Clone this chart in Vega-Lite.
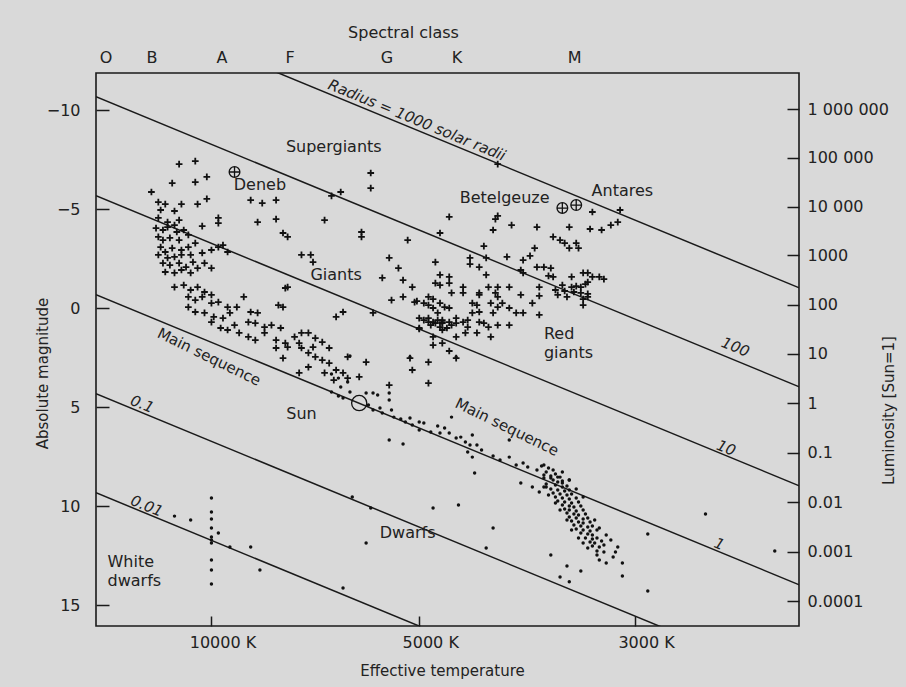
{
"$schema":"https://vega.github.io/schema/vega-lite/v6.json",
"width":703,"height":553,
"autosize":{"type":"none"},
"padding":{"left":96,"top":73,"right":107,"bottom":61},
"background":"#d9d9d9",
"config":{
"view":{"stroke":"#1a1a1a","strokeWidth":1.6},
"font":"DejaVu Sans",
"axis":{"labelFont":"DejaVu Sans","labelFontSize":16,"labelColor":"#222","titleFont":"DejaVu Sans","titleFontSize":15,"titleFontWeight":"normal","titleColor":"#222","domain":false,"grid":false,"tickColor":"#1a1a1a","tickWidth":1.5,"labelFlush":false,"labelOverlap":false,"labelBound":false}
},
"datasets":{
"lines":[
{"R":"1000","bv":-0.5,"M":-15.67},{"R":"1000","bv":2.55,"M":-1.0},
{"R":"100","bv":-0.5,"M":-10.67},{"R":"100","bv":2.55,"M":4.0},
{"R":"10","bv":-0.5,"M":-5.67},{"R":"10","bv":2.55,"M":9.0},
{"R":"1","bv":-0.5,"M":-0.67},{"R":"1","bv":2.55,"M":14.0},
{"R":"0.1","bv":-0.5,"M":4.33},{"R":"0.1","bv":2.55,"M":19.0},
{"R":"0.01","bv":-0.5,"M":9.33},{"R":"0.01","bv":2.55,"M":24.0}
],
"crosses":[
{"bv":-0.14,"M":-7.27},{"bv":-0.07,"M":-7.42},{"bv":-0.17,"M":-6.31},{"bv":-0.07,"M":-6.36},{"bv":-0.02,"M":-6.62},{"bv":-0.26,"M":-5.86},{"bv":0.17,"M":-5.45},{"bv":0.22,"M":-5.3},{"bv":0.28,"M":-5.45},{"bv":-0.02,"M":-5.51},{"bv":-0.06,"M":-5.25},{"bv":-0.13,"M":-5.25},{"bv":-0.23,"M":-5.35},{"bv":-0.2,"M":-5.25},{"bv":-0.22,"M":-4.95},{"bv":-0.16,"M":-4.9},{"bv":0.03,"M":-4.55},{"bv":0.03,"M":-4.29},{"bv":-0.04,"M":-4.14},{"bv":0.2,"M":-4.34},{"bv":0.28,"M":-4.49},{"bv":0.49,"M":-4.44},{"bv":0.56,"M":-5.86},{"bv":0.52,"M":-5.66},{"bv":0.69,"M":-6.82},{"bv":0.69,"M":-6.06},{"bv":0.65,"M":-3.84},{"bv":0.65,"M":-3.59},{"bv":0.31,"M":-3.79},{"bv":0.33,"M":-3.59},{"bv":0.85,"M":-3.43},{"bv":0.39,"M":-2.68},{"bv":0.43,"M":-2.68},{"bv":0.44,"M":-2.32},{"bv":0.77,"M":-2.53},{"bv":0.81,"M":-2.02},{"bv":0.74,"M":-1.52},{"bv":0.83,"M":-1.41},{"bv":0.87,"M":-1.06},{"bv":0.97,"M":-2.32},{"bv":0.99,"M":-1.67},{"bv":0.97,"M":-1.26},{"bv":0.32,"M":-1.01},{"bv":0.54,"M":0.45},{"bv":0.57,"M":0.2},{"bv":0.7,"M":0.25},{"bv":0.9,"M":1.01},{"bv":0.86,"M":2.53},{"bv":0.87,"M":3.13},{"bv":0.94,"M":2.73},{"bv":0.77,"M":3.89},{"bv":0.94,"M":3.79},{"bv":0.67,"M":2.73},{"bv":0.59,"M":2.47},{"bv":0.64,"M":3.48},
{"bv":-0.23,"M":-4.55},{"bv":-0.19,"M":-4.34},{"bv":-0.16,"M":-4.19},{"bv":-0.14,"M":-4.44},{"bv":-0.24,"M":-4.04},{"bv":-0.21,"M":-3.94},{"bv":-0.19,"M":-4.09},{"bv":-0.15,"M":-3.84},{"bv":-0.12,"M":-3.94},{"bv":-0.23,"M":-3.59},{"bv":-0.21,"M":-3.43},{"bv":-0.18,"M":-3.54},{"bv":-0.14,"M":-3.43},{"bv":-0.1,"M":-3.69},{"bv":-0.22,"M":-3.08},{"bv":-0.2,"M":-2.83},{"bv":-0.17,"M":-3.03},{"bv":-0.13,"M":-2.93},{"bv":-0.1,"M":-3.08},{"bv":-0.07,"M":-3.28},{"bv":-0.23,"M":-2.68},{"bv":-0.19,"M":-2.53},{"bv":-0.16,"M":-2.58},{"bv":-0.13,"M":-2.68},{"bv":-0.09,"M":-2.68},{"bv":-0.21,"M":-2.27},{"bv":-0.18,"M":-2.17},{"bv":-0.14,"M":-2.27},{"bv":-0.11,"M":-2.07},{"bv":-0.08,"M":-2.32},{"bv":-0.2,"M":-1.82},{"bv":-0.16,"M":-1.77},{"bv":-0.13,"M":-1.92},{"bv":-0.09,"M":-1.77},{"bv":-0.06,"M":-2.02},{"bv":-0.03,"M":-2.27},{"bv":0.0,"M":-2.02},{"bv":-0.04,"M":-2.78},{"bv":0.0,"M":-2.93},{"bv":0.03,"M":-3.08},{"bv":0.07,"M":-2.83},{"bv":0.05,"M":-3.18},
{"bv":-0.16,"M":-1.06},{"bv":-0.12,"M":-1.16},{"bv":-0.09,"M":-0.91},{"bv":-0.06,"M":-1.06},{"bv":-0.03,"M":-0.81},{"bv":0.0,"M":-0.66},{"bv":-0.1,"M":-0.56},{"bv":-0.07,"M":-0.4},{"bv":-0.04,"M":-0.56},{"bv":0.0,"M":-0.25},{"bv":0.03,"M":-0.3},{"bv":0.07,"M":-0.05},{"bv":-0.1,"M":-0.05},{"bv":-0.07,"M":0.2},{"bv":-0.03,"M":0.25},{"bv":0.01,"M":0.45},{"bv":0.05,"M":0.51},{"bv":0.08,"M":0.25},{"bv":0.11,"M":-0.05},{"bv":0.14,"M":-0.56},{"bv":0.17,"M":0.2},{"bv":0.2,"M":0.25},{"bv":0.16,"M":0.71},{"bv":0.19,"M":0.76},{"bv":0.1,"M":0.86},{"bv":0.0,"M":0.71},{"bv":0.04,"M":1.01},{"bv":0.07,"M":1.11},{"bv":0.12,"M":1.26},{"bv":0.16,"M":1.46},{"bv":0.19,"M":1.62},{"bv":0.23,"M":0.96},{"bv":0.26,"M":0.86},{"bv":0.3,"M":1.01},{"bv":0.29,"M":-0.15},{"bv":0.31,"M":-0.05},{"bv":0.33,"M":-1.06},{"bv":0.23,"M":1.26},
{"bv":0.28,"M":1.62},{"bv":0.32,"M":1.77},{"bv":0.36,"M":1.46},{"bv":0.39,"M":1.26},{"bv":0.42,"M":1.26},{"bv":0.45,"M":1.52},{"bv":0.48,"M":1.72},{"bv":0.51,"M":2.02},{"bv":0.39,"M":2.02},{"bv":0.42,"M":2.27},{"bv":0.45,"M":2.47},{"bv":0.48,"M":2.63},{"bv":0.51,"M":2.78},{"bv":0.54,"M":3.13},{"bv":0.57,"M":3.28},{"bv":0.59,"M":3.54},{"bv":0.33,"M":1.97},{"bv":0.38,"M":1.77},{"bv":0.44,"M":1.97},{"bv":0.28,"M":2.02},{"bv":0.31,"M":2.53},{"bv":0.38,"M":3.28},{"bv":0.42,"M":2.98},{"bv":0.49,"M":3.28},{"bv":0.53,"M":3.64},
{"bv":0.94,"M":-0.56},{"bv":0.92,"M":-0.25},{"bv":0.96,"M":0.0},{"bv":0.98,"M":0.25},{"bv":1.0,"M":0.61},{"bv":0.88,"M":-0.3},{"bv":0.9,"M":0.51},{"bv":0.94,"M":0.71},{"bv":0.97,"M":0.76},{"bv":1.0,"M":0.71},
{"bv":1.24,"M":-7.27},{"bv":1.65,"M":-4.85},{"bv":1.77,"M":-4.95},{"bv":1.76,"M":-4.34},{"bv":1.73,"M":-4.19},{"bv":1.69,"M":-3.94},{"bv":1.64,"M":-3.99},{"bv":1.55,"M":-4.09},{"bv":1.41,"M":-4.09},{"bv":1.3,"M":-4.19},{"bv":1.23,"M":-4.49},{"bv":1.24,"M":-4.65},{"bv":1.22,"M":-3.94},{"bv":1.03,"M":-4.6},{"bv":0.99,"M":-3.79},{"bv":1.48,"M":-3.59},{"bv":1.51,"M":-3.43},{"bv":1.53,"M":-3.28},{"bv":1.55,"M":-3.03},{"bv":1.58,"M":-3.28},{"bv":1.59,"M":-3.03},{"bv":1.18,"M":-3.13},{"bv":1.4,"M":-3.03},{"bv":1.38,"M":-2.63},{"bv":1.28,"M":-2.58},{"bv":1.35,"M":-2.42},{"bv":1.19,"M":-2.53},{"bv":1.12,"M":-2.53},{"bv":1.12,"M":-2.22},{"bv":1.16,"M":-2.07},{"bv":1.19,"M":-1.67},{"bv":1.41,"M":-2.07},{"bv":1.44,"M":-2.07},{"bv":1.47,"M":-2.02},{"bv":1.34,"M":-1.92},{"bv":1.35,"M":-1.77},{"bv":1.46,"M":-1.62},{"bv":1.48,"M":-1.57},{"bv":1.61,"M":-1.77},{"bv":1.63,"M":-1.77},{"bv":1.65,"M":-1.57},{"bv":1.68,"M":-1.57},{"bv":1.7,"M":-1.46},{"bv":1.56,"M":-1.57},{"bv":1.03,"M":-1.57},{"bv":0.99,"M":-1.16},{"bv":1.03,"M":-1.26},{"bv":1.09,"M":-1.06},{"bv":1.2,"M":-1.06},{"bv":1.24,"M":-1.06},{"bv":1.29,"M":-1.06},{"bv":1.52,"M":-1.16},{"bv":1.56,"M":-1.06},{"bv":1.58,"M":-1.11},{"bv":1.6,"M":-1.06},{"bv":1.62,"M":-1.21},{"bv":1.63,"M":-1.31},{"bv":1.49,"M":-0.91},{"bv":1.5,"M":-0.66},{"bv":1.53,"M":-0.86},{"bv":1.57,"M":-0.81},{"bv":1.6,"M":-0.76},{"bv":1.63,"M":-0.71},{"bv":1.54,"M":-0.56},{"bv":1.63,"M":-0.56},{"bv":1.61,"M":-0.45},{"bv":1.61,"M":-0.15},{"bv":1.42,"M":-1.06},{"bv":1.42,"M":-0.61},{"bv":1.34,"M":-0.66},{"bv":1.23,"M":-0.76},{"bv":1.24,"M":-0.56},{"bv":1.16,"M":-0.76},{"bv":1.16,"M":-0.66},{"bv":1.09,"M":-0.76},{"bv":1.04,"M":-0.76},{"bv":0.96,"M":-0.45},{"bv":0.89,"M":-0.35},{"bv":0.78,"M":-0.4},{"bv":0.83,"M":-0.56},{"bv":0.94,"M":-0.15},{"bv":0.99,"M":-0.25},{"bv":1.01,"M":-0.05},{"bv":1.03,"M":0.0},{"bv":1.13,"M":-0.25},{"bv":1.15,"M":-0.15},{"bv":1.21,"M":-0.25},{"bv":1.24,"M":-0.05},{"bv":1.26,"M":-0.25},{"bv":1.29,"M":0.0},{"bv":1.32,"M":0.25},{"bv":1.35,"M":0.25},{"bv":1.39,"M":-0.25},{"bv":1.42,"M":0.35},{"bv":1.22,"M":0.25},{"bv":1.16,"M":0.2},{"bv":1.13,"M":0.25},
{"bv":0.92,"M":0.61},{"bv":0.94,"M":0.51},{"bv":0.96,"M":0.71},{"bv":0.98,"M":0.61},{"bv":1.0,"M":0.76},{"bv":1.03,"M":0.71},{"bv":1.04,"M":0.86},{"bv":1.06,"M":0.76},{"bv":1.09,"M":0.71},{"bv":0.95,"M":0.86},{"bv":0.99,"M":0.96},{"bv":1.02,"M":1.01},{"bv":1.06,"M":0.51},{"bv":1.11,"M":0.61},{"bv":1.16,"M":0.71},{"bv":1.18,"M":0.76},{"bv":1.2,"M":0.96},{"bv":1.11,"M":0.96},{"bv":1.1,"M":1.26},{"bv":1.15,"M":1.26},{"bv":1.21,"M":1.46},{"bv":1.24,"M":0.86},{"bv":1.29,"M":0.86},{"bv":0.9,"M":1.06},{"bv":1.0,"M":1.11},{"bv":1.06,"M":1.46},{"bv":0.96,"M":1.46},{"bv":0.96,"M":1.87},{"bv":1.0,"M":1.77},{"bv":1.03,"M":2.17},{"bv":1.06,"M":2.53}
],
"dots":[
{"bv":0.6,"M":2.42},{"bv":0.86,"M":2.47},{"bv":1.06,"M":2.47},{"bv":0.59,"M":3.74},{"bv":0.55,"M":3.54},{"bv":0.52,"M":3.33},{"bv":0.56,"M":3.99},{"bv":0.6,"M":4.24},{"bv":0.67,"M":4.29},{"bv":0.7,"M":4.29},{"bv":0.72,"M":4.39},{"bv":0.77,"M":4.29},{"bv":0.77,"M":4.65},{"bv":0.52,"M":4.24},{"bv":0.55,"M":4.44},{"bv":0.57,"M":4.55},{"bv":0.68,"M":4.9},{"bv":0.7,"M":5.15},{"bv":0.73,"M":5.05},{"bv":0.74,"M":5.3},{"bv":0.78,"M":5.15},{"bv":0.79,"M":5.51},{"bv":0.82,"M":5.61},{"bv":0.84,"M":5.76},{"bv":0.86,"M":5.56},{"bv":0.87,"M":5.91},{"bv":0.9,"M":5.76},{"bv":0.9,"M":6.16},{"bv":0.92,"M":5.81},{"bv":0.95,"M":6.26},{"bv":0.98,"M":5.96},{"bv":0.99,"M":6.31},{"bv":1.01,"M":6.06},{"bv":1.03,"M":6.31},{"bv":1.06,"M":6.57},{"bv":1.08,"M":6.52},{"bv":1.1,"M":6.77},{"bv":1.12,"M":6.92},{"bv":1.15,"M":6.92},{"bv":1.17,"M":7.17},{"bv":1.11,"M":7.27},{"bv":1.13,"M":7.53},{"bv":1.04,"M":5.51},{"bv":1.13,"M":6.41},{"bv":0.83,"M":6.87},{"bv":0.77,"M":6.67},{"bv":1.22,"M":7.47},{"bv":1.25,"M":7.68},{"bv":1.29,"M":6.67},{"bv":1.29,"M":7.53},{"bv":1.32,"M":7.93},{"bv":1.35,"M":7.83},{"bv":1.37,"M":8.03},{"bv":1.41,"M":8.18},{"bv":1.44,"M":7.93},{"bv":1.44,"M":8.43},{"bv":1.47,"M":8.59},{"bv":1.5,"M":8.54},{"bv":1.52,"M":8.84},{"bv":1.55,"M":8.69},{"bv":1.34,"M":8.84},{"bv":1.39,"M":9.04},{"bv":1.42,"M":9.29},{"bv":1.45,"M":9.04},{"bv":1.14,"M":8.33},{"bv":1.07,"M":9.95},{"bv":0.96,"M":10.1},{"bv":1.22,"M":11.11},{"bv":0.61,"M":9.54},{"bv":0.67,"M":11.87},{"bv":1.19,"M":12.12},{"bv":1.47,"M":12.47},{"bv":1.54,"M":13.03},{"bv":1.6,"M":13.28},{"bv":1.51,"M":13.58},{"bv":1.55,"M":13.83},{"bv":1.78,"M":13.53},{"bv":1.78,"M":12.88},{"bv":1.89,"M":11.41},{"bv":1.89,"M":14.29},{"bv":2.14,"M":10.4},{"bv":2.44,"M":12.27},{"bv":1.76,"M":12.07},{"bv":1.75,"M":12.32},{"bv":1.74,"M":12.58},{"bv":1.71,"M":12.88},{"bv":1.68,"M":12.73},{"bv":1.67,"M":12.47},
{"bv":1.43,"M":7.98},{"bv":1.46,"M":8.08},{"bv":1.48,"M":8.18},{"bv":1.45,"M":8.28},{"bv":1.49,"M":8.38},{"bv":1.47,"M":8.48},{"bv":1.51,"M":8.54},{"bv":1.44,"M":8.59},{"bv":1.48,"M":8.69},{"bv":1.5,"M":8.79},{"bv":1.52,"M":8.74},{"bv":1.45,"M":8.89},{"bv":1.49,"M":8.94},{"bv":1.52,"M":9.04},{"bv":1.54,"M":8.99},{"bv":1.47,"M":9.14},{"bv":1.5,"M":9.19},{"bv":1.53,"M":9.24},{"bv":1.55,"M":9.19},{"bv":1.48,"M":9.34},{"bv":1.51,"M":9.39},{"bv":1.54,"M":9.44},{"bv":1.56,"M":9.39},{"bv":1.49,"M":9.55},{"bv":1.52,"M":9.6},{"bv":1.55,"M":9.65},{"bv":1.58,"M":9.6},{"bv":1.5,"M":9.75},{"bv":1.53,"M":9.8},{"bv":1.56,"M":9.85},{"bv":1.59,"M":9.8},{"bv":1.52,"M":9.95},{"bv":1.55,"M":10.0},{"bv":1.57,"M":10.05},{"bv":1.6,"M":10.0},{"bv":1.53,"M":10.15},{"bv":1.55,"M":10.2},{"bv":1.58,"M":10.25},{"bv":1.61,"M":10.2},{"bv":1.54,"M":10.35},{"bv":1.57,"M":10.4},{"bv":1.59,"M":10.45},{"bv":1.62,"M":10.4},{"bv":1.55,"M":10.56},{"bv":1.58,"M":10.61},{"bv":1.61,"M":10.66},{"bv":1.63,"M":10.61},{"bv":1.56,"M":10.76},{"bv":1.59,"M":10.81},{"bv":1.61,"M":10.86},{"bv":1.64,"M":10.81},{"bv":1.57,"M":10.96},{"bv":1.6,"M":11.01},{"bv":1.63,"M":11.06},{"bv":1.65,"M":11.01},{"bv":1.58,"M":11.16},{"bv":1.61,"M":11.21},{"bv":1.64,"M":11.26},{"bv":1.67,"M":11.21},{"bv":1.6,"M":11.36},{"bv":1.63,"M":11.41},{"bv":1.65,"M":11.46},{"bv":1.62,"M":11.62},{"bv":1.65,"M":11.67},{"bv":1.67,"M":11.62},{"bv":1.64,"M":11.82},{"bv":1.66,"M":11.87},{"bv":1.69,"M":11.77},{"bv":1.65,"M":12.02},{"bv":1.68,"M":12.07},{"bv":1.7,"M":11.97},{"bv":1.56,"M":11.21},{"bv":1.54,"M":10.71},{"bv":1.51,"M":10.2},{"bv":1.49,"M":9.85},{"bv":1.46,"M":9.44},{"bv":1.44,"M":9.04},{"bv":1.66,"M":10.71},{"bv":1.68,"M":11.11},{"bv":1.71,"M":11.46},{"bv":1.61,"M":9.55},{"bv":1.58,"M":9.14},{"bv":1.55,"M":8.69},{"bv":1.52,"M":8.28},{"bv":1.73,"M":11.72},{"bv":1.63,"M":12.12},{"bv":1.67,"M":12.27},{"bv":1.7,"M":12.32},{"bv":1.59,"M":11.62},{"bv":1.61,"M":11.87},
{"bv":0.0,"M":9.6},{"bv":0.0,"M":10.3},{"bv":0.0,"M":10.66},{"bv":0.0,"M":11.11},{"bv":0.0,"M":11.57},{"bv":0.0,"M":11.72},{"bv":0.0,"M":11.87},{"bv":0.0,"M":12.73},{"bv":0.0,"M":13.23},{"bv":0.0,"M":13.94},{"bv":-0.16,"M":10.51},{"bv":-0.09,"M":10.71},{"bv":0.03,"M":11.36},{"bv":0.08,"M":12.07},{"bv":0.17,"M":12.07},{"bv":0.21,"M":13.23},{"bv":0.57,"M":14.14},{"bv":0.69,"M":10.1}
],
"oplus":[{"name":"Deneb","bv":0.1,"M":-6.87},{"name":"Betelgeuze","bv":1.52,"M":-5.05},{"name":"Antares","bv":1.58,"M":-5.2}],
"sun":[{"name":"Sun","bv":0.64,"M":4.8}],
"labels_c":[
{"text":"Supergiants","bv":0.53,"M":-8.13},{"text":"Deneb","bv":0.21,"M":-6.21},{"text":"Giants","bv":0.54,"M":-1.67},{"text":"Betelgeuze","bv":1.27,"M":-5.56},{"text":"Antares","bv":1.78,"M":-5.91},{"text":"Sun","bv":0.39,"M":5.35},{"text":"Dwarfs","bv":0.85,"M":11.36}
],
"labels_l":[
{"text":"Red","bv":1.44,"M":1.31},{"text":"giants","bv":1.44,"M":2.27},{"text":"White","bv":-0.45,"M":12.83},{"text":"dwarfs","bv":-0.45,"M":13.79}
],
"radius_labels":[
{"text":"Radius = 1000 solar radii","bv":0.89,"M":-9.49},{"text":"100","bv":2.27,"M":1.97},{"text":"10","bv":2.23,"M":7.07},{"text":"1","bv":2.2,"M":11.92},{"text":"0.1","bv":-0.3,"M":4.85},{"text":"0.01","bv":-0.28,"M":10.0}
],
"ms_labels":[
{"text":"Main sequence","bv":-0.01,"M":2.47},{"text":"Main sequence","bv":1.28,"M":6.01}
]
},
"layer":[
{"data":{"name":"lines"},
"mark":{"type":"line","color":"#1a1a1a","strokeWidth":1.5,"clip":true},
"encoding":{
"x":{"field":"bv","type":"quantitative","scale":{"domain":[-0.5,2.545],"nice":false,"zero":false},
"axis":{"orient":"bottom","title":"Effective temperature","values":[0,0.9,1.835],"labelExpr":"datum.value < 0.5 ? '10000 K' : (datum.value < 1.5 ? '5000 K' : '3000 K')","tickSize":-10,"labelPadding":18,"labelOffset":11,"titleX":346,"titleY":44,"titleBaseline":"middle"}},
"y":{"field":"M","type":"quantitative","scale":{"domain":[-11.87,16.06],"reverse":true,"nice":false,"zero":false},
"axis":{"orient":"left","title":"Absolute magnitude","values":[-10,-5,0,5,10,15],"tickSize":-13,"labelPadding":29,"titleAngle":-90,"titleX":-54,"titleY":300,"titleAlign":"center","titleBaseline":"middle"}},
"detail":{"field":"R","type":"nominal"}}},
{"data":{"name":"crosses"},
"mark":{"type":"point","shape":"M-1,0H1M0,-1V1","size":45,"filled":false,"stroke":"#111","strokeWidth":1.8,"opacity":1},
"encoding":{
"x":{"field":"bv","type":"quantitative","scale":{"domain":[-0.5,2.545],"nice":false,"zero":false},
"axis":{"orient":"top","title":"Spectral class","titleFontSize":16,"values":[-0.459,-0.26,0.043,0.338,0.758,1.061,1.571],"labelExpr":"datum.value < -0.4 ? 'O' : datum.value < -0.1 ? 'B' : datum.value < 0.2 ? 'A' : datum.value < 0.5 ? 'F' : datum.value < 0.9 ? 'G' : datum.value < 1.3 ? 'K' : 'M'","ticks":false,"labelPadding":8,"titleX":307,"titleY":-41,"titleBaseline":"middle"}},
"y":{"field":"M","type":"quantitative","scale":{"domain":[-11.87,16.06],"reverse":true,"nice":false,"zero":false},
"axis":{"orient":"right","title":"Luminosity [Sun=1]","values":[-10.05,-7.6,-5.12,-2.66,-0.17,2.3,4.8,7.3,9.8,12.3,14.8],"labelExpr":"['0.0001','0.001','0.01','0.1','1','10','100','1000','10 000','100 000','1 000 000'][round((4.8 - datum.value)/2.49) + 4]","tickSize":-12,"labelPadding":20,"titleAngle":-90,"titleX":89,"titleY":337,"titleAlign":"center","titleBaseline":"middle"}}}},
{"data":{"name":"dots"},
"mark":{"type":"point","shape":"circle","size":12,"filled":true,"color":"#111","opacity":1},
"encoding":{
"x":{"field":"bv","type":"quantitative","scale":{"domain":[-0.5,2.545],"nice":false,"zero":false},"axis":null},
"y":{"field":"M","type":"quantitative","scale":{"domain":[-11.87,16.06],"reverse":true,"nice":false,"zero":false},"axis":null}}},
{"data":{"name":"oplus"},
"mark":{"type":"point","shape":"M-1,0A1,1,0,1,1,1,0A1,1,0,1,1,-1,0ZM-1,0H1M0,-1V1","size":115,"filled":false,"stroke":"#111","strokeWidth":1.3,"opacity":1},
"encoding":{
"x":{"field":"bv","type":"quantitative","scale":{"domain":[-0.5,2.545],"nice":false,"zero":false},"axis":null},
"y":{"field":"M","type":"quantitative","scale":{"domain":[-11.87,16.06],"reverse":true,"nice":false,"zero":false},"axis":null}}},
{"data":{"name":"sun"},
"mark":{"type":"point","shape":"circle","size":230,"filled":false,"stroke":"#111","strokeWidth":1.3,"opacity":1},
"encoding":{
"x":{"field":"bv","type":"quantitative","scale":{"domain":[-0.5,2.545],"nice":false,"zero":false},"axis":null},
"y":{"field":"M","type":"quantitative","scale":{"domain":[-11.87,16.06],"reverse":true,"nice":false,"zero":false},"axis":null}}},
{"data":{"name":"labels_c"},
"mark":{"type":"text","align":"center","baseline":"middle","font":"DejaVu Sans","fontSize":16,"color":"#222"},
"encoding":{
"x":{"field":"bv","type":"quantitative","scale":{"domain":[-0.5,2.545],"nice":false,"zero":false},"axis":null},
"y":{"field":"M","type":"quantitative","scale":{"domain":[-11.87,16.06],"reverse":true,"nice":false,"zero":false},"axis":null},
"text":{"field":"text"}}},
{"data":{"name":"labels_l"},
"mark":{"type":"text","align":"left","baseline":"middle","font":"DejaVu Sans","fontSize":16,"color":"#222"},
"encoding":{
"x":{"field":"bv","type":"quantitative","scale":{"domain":[-0.5,2.545],"nice":false,"zero":false},"axis":null},
"y":{"field":"M","type":"quantitative","scale":{"domain":[-11.87,16.06],"reverse":true,"nice":false,"zero":false},"axis":null},
"text":{"field":"text"}}},
{"data":{"name":"radius_labels"},
"mark":{"type":"text","align":"center","baseline":"middle","font":"DejaVu Sans","fontSize":15,"fontStyle":"italic","angle":22.4,"color":"#222"},
"encoding":{
"x":{"field":"bv","type":"quantitative","scale":{"domain":[-0.5,2.545],"nice":false,"zero":false},"axis":null},
"y":{"field":"M","type":"quantitative","scale":{"domain":[-11.87,16.06],"reverse":true,"nice":false,"zero":false},"axis":null},
"text":{"field":"text"}}},
{"data":{"name":"ms_labels"},
"mark":{"type":"text","align":"center","baseline":"middle","font":"DejaVu Sans","fontSize":15,"angle":26,"color":"#222"},
"encoding":{
"x":{"field":"bv","type":"quantitative","scale":{"domain":[-0.5,2.545],"nice":false,"zero":false},"axis":null},
"y":{"field":"M","type":"quantitative","scale":{"domain":[-11.87,16.06],"reverse":true,"nice":false,"zero":false},"axis":null},
"text":{"field":"text"}}}
],
"resolve":{"axis":{"x":"independent","y":"independent"}}
}
